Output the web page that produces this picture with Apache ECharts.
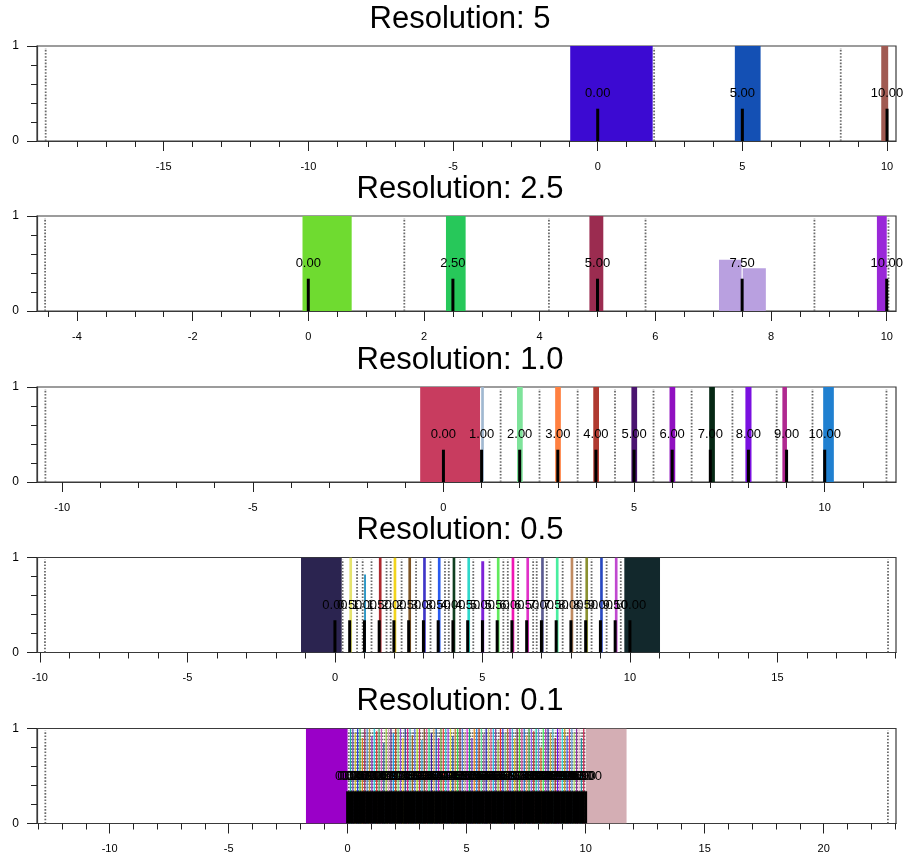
<!DOCTYPE html>
<html><head><meta charset="utf-8">
<script src="https://cdn.jsdelivr.net/npm/echarts@6/dist/echarts.min.js"></script>
<style>html,body{margin:0;padding:0;background:#fff}#c{width:907px;height:859px}</style>
</head><body><div id="c"></div>
<script>
// ---------- data ----------
const titles = ['Resolution: 5', 'Resolution: 2.5', 'Resolution: 1.0', 'Resolution: 0.5', 'Resolution: 0.1'];
const xMin = [-19.38, -4.69, -10.66, -10.10, -13.05];
const xMax = [10.31, 10.16, 11.87, 19.02, 23.04];
const xMajorTicks = [
  [-15, -10, -5, 0, 5, 10],
  [-4, -2, 0, 2, 4, 6, 8, 10],
  [-10, -5, 0, 5, 10],
  [-10, -5, 0, 5, 10, 15],
  [-10, -5, 0, 5, 10, 15, 20]
];
const xMinorTicks = [
  [-19, -18, -17, -16, -14, -13, -12, -11, -9, -8, -7, -6, -4, -3, -2, -1, 1, 2, 3, 4, 6, 7, 8, 9],
  [-4.5, -3.5, -3, -2.5, -1.5, -1, -0.5, 0.5, 1, 1.5, 2.5, 3, 3.5, 4.5, 5, 5.5, 6.5, 7, 7.5, 8.5, 9, 9.5],
  [-9, -8, -7, -6, -4, -3, -2, -1, 1, 2, 3, 4, 6, 7, 8, 9, 11],
  [-9, -8, -7, -6, -4, -3, -2, -1, 1, 2, 3, 4, 6, 7, 8, 9, 11, 12, 13, 14, 16, 17, 18, 19],
  [-13, -12, -11, -9, -8, -7, -6, -4, -3, -2, -1, 1, 2, 3, 4, 6, 7, 8, 9, 11, 12, 13, 14, 16, 17, 18, 19, 21, 22, 23]
];
const yMajorTicks = [0, 1];
const yMinorTicks = [0.2, 0.4, 0.6, 0.8];

// Panel 1 (resolution 5)
const p1Values = [0, 5, 10];
const p1BarStart = [-0.95, 4.74, 9.80];
const p1BarEnd = [1.90, 5.63, 10.04];
const p1BarHeight = [1, 1, 1];
const p1BarColor = ['#3c0ad2', '#1450b4', '#a05a52'];
const p1Dotted = [-19.08, 1.95, 8.40];

// Panel 2 (resolution 2.5)
const p2Values = [0, 2.5, 5, 7.5, 10];
const p2BarStart = [-0.10, 2.38, 4.86, 7.10, 7.51, 9.83];
const p2BarEnd = [0.75, 2.72, 5.10, 7.49, 7.91, 10.00];
const p2BarHeight = [1, 1, 1, 0.54, 0.45, 1];
const p2BarColor = ['#6fdb30', '#27c85a', '#9b2c50', '#b9a0e0', '#b9a0e0', '#9a28d8'];
const p2Dotted = [-4.55, 1.66, 4.16, 5.83, 8.75, 10.03];

// Panel 3 (resolution 1.0)
const p3Values = [0, 1, 2, 3, 4, 5, 6, 7, 8, 9, 10];
const p3BarStart = [-0.61, 0.99, 1.93, 2.93, 3.93, 4.93, 5.93, 6.97, 7.92, 8.89, 9.96];
const p3BarEnd = [0.96, 1.06, 2.08, 3.08, 4.08, 5.08, 6.08, 7.12, 8.08, 9.01, 10.24];
const p3BarHeight = [1, 1, 1, 1, 1, 1, 1, 1, 1, 1, 1];
const p3BarColor = ['#c83c5f', '#a0b8d0', '#7ee39a', '#ff8040', '#b03a30', '#4a1470', '#9010c0', '#062814', '#7a10e0', '#b02890', '#2080d0'];
const p3Dotted = [-10.44, 1.50, 2.52, 3.52, 4.50, 5.51, 6.51, 7.58, 8.74, 9.68, 11.62];

// Panel 4 (resolution 0.5)
const p4Values = [0, 0.5, 1, 1.5, 2, 2.5, 3, 3.5, 4, 4.5, 5, 5.5, 6, 6.5, 7, 7.5, 8, 8.5, 9, 9.5, 10];
const p4BarStart = [-1.15, 0.49, 0.99, 1.49, 1.99, 2.49, 2.99, 3.49, 3.99, 4.49, 4.96, 5.49, 5.99, 6.49, 6.99, 7.49, 7.99, 8.49, 8.99, 9.49, 9.81];
const p4BarEnd = [0.23, 0.58, 1.05, 1.58, 2.08, 2.58, 3.08, 3.58, 4.08, 4.58, 5.06, 5.58, 6.08, 6.58, 7.08, 7.58, 8.08, 8.58, 9.08, 9.58, 11.02];
const p4BarHeight = [1, 1, 0.82, 1, 1, 1, 1, 1, 1, 1, 0.96, 1, 1, 1, 1, 1, 1, 1, 1, 1, 1];
const p4BarColor = ['#2b2450', '#e5e36e', '#1a8ec0', '#ad2a2f', '#f2d41c', '#7d5424', '#3f35c8', '#2a5cf0', '#0f4020', '#30d9cc',
  '#7e22d8', '#62ea5c', '#ef15b4', '#e030c8', '#5a5a90', '#49eea0', '#c08a60', '#8a9030', '#2848c0', '#c048d0', '#12282c'];
const p4Dotted = [-9.83, 0.26, 0.75, 0.94, 1.24, 1.75, 1.89, 2.26, 2.75, 3.24, 3.73, 3.86, 4.24, 4.69, 5.24, 5.71, 5.86,
  6.21, 6.72, 6.84, 7.18, 7.72, 8.21, 8.33, 8.70, 9.21, 9.69, 18.75];

// Panel 5 (resolution 0.1)
const p5Values = [0, 0.1, 0.2, 0.3, 0.4, 0.5, 0.6, 0.7, 0.8, 0.9, 1, 1.1, 1.2, 1.3, 1.4, 1.5, 1.6, 1.7, 1.8, 1.9,
  2, 2.1, 2.2, 2.3, 2.4, 2.5, 2.6, 2.7, 2.8, 2.9, 3, 3.1, 3.2, 3.3, 3.4, 3.5, 3.6, 3.7, 3.8, 3.9,
  4, 4.1, 4.2, 4.3, 4.4, 4.5, 4.6, 4.7, 4.8, 4.9, 5, 5.1, 5.2, 5.3, 5.4, 5.5, 5.6, 5.7, 5.8, 5.9,
  6, 6.1, 6.2, 6.3, 6.4, 6.5, 6.6, 6.7, 6.8, 6.9, 7, 7.1, 7.2, 7.3, 7.4, 7.5, 7.6, 7.7, 7.8, 7.9,
  8, 8.1, 8.2, 8.3, 8.4, 8.5, 8.6, 8.7, 8.8, 8.9, 9, 9.1, 9.2, 9.3, 9.4, 9.5, 9.6, 9.7, 9.8, 9.9, 10];
const p5BarStart = [-1.75, 10.01];
const p5BarEnd = [0.00, 11.72];
const p5BarHeight = [1, 1];
const p5BarColor = ['#9a00c8', '#d4aeb4'];
const p5LineX = [0.1, 0.2, 0.3, 0.4, 0.5, 0.6, 0.7, 0.8, 0.9, 1, 1.1, 1.2, 1.3, 1.4, 1.5, 1.6, 1.7, 1.8, 1.9,
  2, 2.1, 2.2, 2.3, 2.4, 2.5, 2.6, 2.7, 2.8, 2.9, 3, 3.1, 3.2, 3.3, 3.4, 3.5, 3.6, 3.7, 3.8, 3.9,
  4, 4.1, 4.2, 4.3, 4.4, 4.5, 4.6, 4.7, 4.8, 4.9, 5, 5.1, 5.2, 5.3, 5.4, 5.5, 5.6, 5.7, 5.8, 5.9,
  6, 6.1, 6.2, 6.3, 6.4, 6.5, 6.6, 6.7, 6.8, 6.9, 7, 7.1, 7.2, 7.3, 7.4, 7.5, 7.6, 7.7, 7.8, 7.9,
  8, 8.1, 8.2, 8.3, 8.4, 8.5, 8.6, 8.7, 8.8, 8.9, 9, 9.1, 9.2, 9.3, 9.4, 9.5, 9.6, 9.7, 9.8, 9.9];
const p5LineHeight = [1, 1, 0.95, 1, 1, 0.9, 1, 1, 1, 0.92,
  1, 0.97, 1, 1, 0.85, 1, 1, 1, 0.95, 1,
  1, 1, 0.9, 1, 1, 1, 0.93, 1, 1, 1,
  0.88, 1, 1, 1, 0.95, 1, 1, 0.9, 1, 1,
  1, 1, 1, 0.92, 1, 1, 1, 1, 0.96, 1,
  1, 0.9, 1, 1, 1, 1, 0.94, 1, 1, 1,
  1, 1, 0.88, 1, 1, 0.95, 1, 1, 1, 0.9,
  1, 1, 1, 1, 0.93, 1, 1, 0.97, 1, 1,
  0.8, 1, 1, 1, 0.95, 1, 0.9, 1, 1, 1,
  1, 0.92, 1, 1, 0.95, 1, 1, 0.9, 1];
const p5LineColor = ['#20b0a0', '#6040c0', '#d0c020', '#2040e0', '#30c040', '#e08020', '#a02060', '#5090d0', '#c0a040', '#8020c0',
  '#20d0e0', '#e03030', '#40a060', '#d060c0', '#3060a0', '#a0d040', '#e0a0c0', '#602080', '#10a0f0', '#c04010',
  '#70e070', '#9050e0', '#f0d030', '#204090', '#e02090', '#40c0b0', '#a06020', '#6070f0', '#b0e020', '#d03060',
  '#30a0d0', '#805020', '#f060a0', '#20e080', '#4020a0', '#e0b060', '#1060c0', '#c020c0', '#60a030', '#f04040',
  '#30d0d0', '#a040f0', '#e0e040', '#2050b0', '#d08030', '#40e050', '#902040', '#5080e0', '#c0c0a0', '#e020e0',
  '#10b070', '#7030d0', '#f09020', '#3090f0', '#b03010', '#60e0a0', '#a060a0', '#2020c0', '#d0d070', '#e05080',
  '#20c0f0', '#8040a0', '#90c030', '#f03030', '#3040e0', '#60c080', '#c07040', '#a020d0', '#40b0e0', '#e0c020',
  '#702050', '#50e030', '#d040a0', '#2070d0', '#f0a060', '#30a040', '#9060f0', '#c03030', '#10d0b0', '#8080e0',
  '#e06020', '#40f060', '#b040c0', '#2030a0', '#d0b040', '#50c0d0', '#a02020', '#7010f0', '#e070c0', '#30e0e0',
  '#c0a020', '#4060f0', '#e04070', '#60a0e0', '#b0e070', '#9030a0', '#f0c0d0', '#2090a0', '#d02050'];
const p5Dotted = [-12.70, 0.05, 0.15, 0.25, 0.35, 0.45, 0.55, 0.65, 0.75, 0.85, 0.95, 1.05, 1.15, 1.25, 1.35, 1.45, 1.55, 1.65, 1.75, 1.85, 1.95,
  2.05, 2.15, 2.25, 2.35, 2.45, 2.55, 2.65, 2.75, 2.85, 2.95, 3.05, 3.15, 3.25, 3.35, 3.45, 3.55, 3.65, 3.75, 3.85, 3.95,
  4.05, 4.15, 4.25, 4.35, 4.45, 4.55, 4.65, 4.75, 4.85, 4.95, 5.05, 5.15, 5.25, 5.35, 5.45, 5.55, 5.65, 5.75, 5.85, 5.95,
  6.05, 6.15, 6.25, 6.35, 6.45, 6.55, 6.65, 6.75, 6.85, 6.95, 7.05, 7.15, 7.25, 7.35, 7.45, 7.55, 7.65, 7.75, 7.85, 7.95,
  8.05, 8.15, 8.25, 8.35, 8.45, 8.55, 8.65, 8.75, 8.85, 8.95, 9.05, 9.15, 9.25, 9.35, 9.45, 9.55, 9.65, 9.75, 9.85, 9.95, 22.70];

const stemTop = 0.34;
const labelY = 0.5;

// ---------- build ----------
const panels = [
  {values: p1Values, bs: p1BarStart, be: p1BarEnd, bh: p1BarHeight, bc: p1BarColor, dotted: p1Dotted},
  {values: p2Values, bs: p2BarStart, be: p2BarEnd, bh: p2BarHeight, bc: p2BarColor, dotted: p2Dotted},
  {values: p3Values, bs: p3BarStart, be: p3BarEnd, bh: p3BarHeight, bc: p3BarColor, dotted: p3Dotted},
  {values: p4Values, bs: p4BarStart, be: p4BarEnd, bh: p4BarHeight, bc: p4BarColor, dotted: p4Dotted},
  {values: p5Values, bs: p5BarStart, be: p5BarEnd, bh: p5BarHeight, bc: p5BarColor, dotted: p5Dotted,
   lx: p5LineX, lh: p5LineHeight, lc: p5LineColor}
];

const FONT = 'Liberation Sans, Arial, Helvetica, sans-serif';
const gridTops = [46, 216, 387, 557.5, 728.5];
const titleYs = [19, 189.5, 360, 530.5, 701];
const axisColor = '#3a3a3a';

const grid = [], xAxis = [], yAxis = [], series = [], graphic = [];

panels.forEach((p, i) => {
  grid.push({left: 37, right: 11, top: gridTops[i], height: 95, show: true,
    borderColor: axisColor, borderWidth: 1.2, backgroundColor: 'transparent'});
  xAxis.push({type: 'value', gridIndex: i, position: 'bottom', min: xMin[i], max: xMax[i],
    axisLine: {show: true, onZero: false, lineStyle: {color: axisColor, width: 1.2}},
    axisTick: {show: true, customValues: xMajorTicks[i], length: 10, lineStyle: {color: '#222', width: 1}},
    axisLabel: {show: true, customValues: xMajorTicks[i], margin: 20, fontSize: 11, color: '#000', fontFamily: FONT},
    splitLine: {show: false}});
  xAxis.push({type: 'value', gridIndex: i, position: 'bottom', min: xMin[i], max: xMax[i],
    axisLine: {show: false, onZero: false},
    axisTick: {show: true, customValues: xMinorTicks[i], length: 6, lineStyle: {color: '#222', width: 1}},
    axisLabel: {show: false}, splitLine: {show: false}});
  yAxis.push({type: 'value', gridIndex: i, position: 'left', min: 0, max: 1,
    axisLine: {show: true, onZero: false, lineStyle: {color: axisColor, width: 1.2}},
    axisTick: {show: true, customValues: yMajorTicks, length: 10, lineStyle: {color: '#222', width: 1}},
    axisLabel: {show: true, customValues: yMajorTicks, margin: 18, fontSize: 12, color: '#000', fontFamily: FONT},
    splitLine: {show: false}});
  yAxis.push({type: 'value', gridIndex: i, position: 'left', min: 0, max: 1,
    axisLine: {show: false, onZero: false},
    axisTick: {show: true, customValues: yMinorTicks, length: 6, lineStyle: {color: '#222', width: 1}},
    axisLabel: {show: false}, splitLine: {show: false}});

  const xi = 2 * i, yi = 2 * i;

  series.push({type: 'custom', xAxisIndex: xi, yAxisIndex: yi, silent: true, clip: true, z: 1,
    data: p.bs.map((s, k) => [s, p.bh[k], p.be[k]]),
    renderItem: (params, api) => {
      const a = api.coord([api.value(0), 0]);
      const b = api.coord([api.value(2), api.value(1)]);
      return {type: 'rect', shape: {x: a[0], y: b[1], width: b[0] - a[0], height: a[1] - b[1]},
        style: {fill: p.bc[params.dataIndex]}};
    }});

  series.push({type: 'custom', xAxisIndex: xi, yAxisIndex: yi, silent: true, clip: true, z: 2,
    data: p.dotted.map(x => [x, 1]),
    renderItem: (params, api) => {
      const a = api.coord([api.value(0), 0]);
      const b = api.coord([api.value(0), 1]);
      return {type: 'line', shape: {x1: a[0], y1: a[1], x2: b[0], y2: b[1] + 2},
        style: {stroke: '#6a6a6a', lineWidth: 1.8, lineDash: [1.6, 1.6]}};
    }});

  if (p.lx) {
    series.push({type: 'custom', xAxisIndex: xi, yAxisIndex: yi, silent: true, clip: true, z: 3,
      data: p.lx.map((x, k) => [x, p.lh[k]]),
      renderItem: (params, api) => {
        const a = api.coord([api.value(0), 0]);
        const b = api.coord([api.value(0), api.value(1)]);
        return {type: 'line', shape: {x1: a[0] + 0.5, y1: a[1], x2: b[0] + 0.5, y2: b[1]},
          style: {stroke: p.lc[params.dataIndex], lineWidth: 1.2}};
      }});
  }

  series.push({type: 'custom', xAxisIndex: xi, yAxisIndex: yi, silent: true, clip: true, z: 4,
    data: p.values.map(v => [v, stemTop]),
    renderItem: (params, api) => {
      const a = api.coord([api.value(0), 0]);
      const b = api.coord([api.value(0), api.value(1)]);
      return {type: 'line', shape: {x1: a[0], y1: a[1], x2: b[0], y2: b[1]},
        style: {stroke: '#000', lineWidth: 3}};
    }});

  series.push({type: 'custom', xAxisIndex: xi, yAxisIndex: yi, silent: true, clip: false, z: 5,
    data: p.values.map(v => [v, labelY]),
    renderItem: (params, api) => {
      const c = api.coord([api.value(0), api.value(1)]);
      return {type: 'text', x: c[0], y: c[1],
        style: {text: api.value(0).toFixed(2), fontSize: 13, fill: '#000', fontFamily: FONT,
          align: 'center', verticalAlign: 'middle'}};
    }});

  graphic.push({type: 'text', x: 460, y: titleYs[i], silent: true,
    style: {text: titles[i], fontSize: 31, fill: '#000', fontFamily: FONT, align: 'center', verticalAlign: 'middle'}});
});

const chart = echarts.init(document.getElementById('c'), null, {renderer: 'canvas'});
chart.setOption({animation: false, backgroundColor: '#fff', grid, xAxis, yAxis, series, graphic});
</script></body></html>
